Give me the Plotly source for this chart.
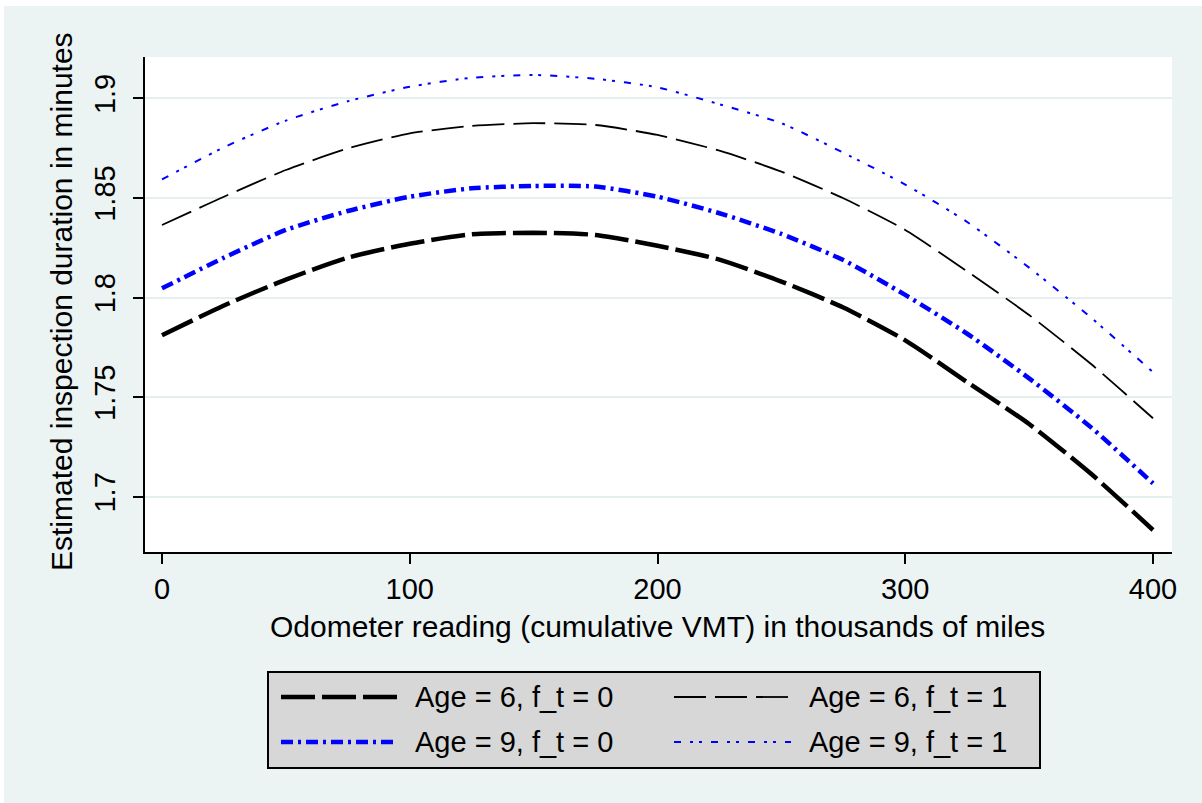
import plotly.graph_objects as go

# Odometer reading (thousands of miles)
odometer = [0, 25, 50, 75, 100, 125, 150, 175, 200, 225, 250, 275, 300, 325, 350, 375, 400]

# Estimated inspection duration (minutes)
age6_ft0 = [1.781, 1.796, 1.809, 1.820, 1.827, 1.8317, 1.8325, 1.8314, 1.826, 1.819, 1.808,
            1.795, 1.7785, 1.7575, 1.7365, 1.7115, 1.6833]
age6_ft1 = [1.8364, 1.8506, 1.864, 1.8748, 1.8824, 1.8861, 1.8875, 1.8866, 1.8816, 1.8737,
            1.8632, 1.8498, 1.8339, 1.8131, 1.7912, 1.7666, 1.7394]
age9_ft0 = [1.8046, 1.82, 1.8339, 1.8434, 1.8506, 1.8548, 1.856, 1.8557, 1.8506, 1.8423,
            1.8319, 1.8188, 1.8013, 1.7818, 1.7594, 1.7348, 1.7067]
age9_ft1 = [1.8593, 1.8754, 1.8888, 1.8985, 1.9058, 1.9103, 1.9117, 1.9098, 1.9055, 1.897,
            1.8875, 1.8727, 1.8567, 1.8379, 1.815, 1.7899, 1.7625]

labels = ["Age = 6, f_t = 0", "Age = 6, f_t = 1", "Age = 9, f_t = 0", "Age = 9, f_t = 1"]

x_ticks = [0, 100, 200, 300, 400]
y_ticks = [1.7, 1.75, 1.8, 1.85, 1.9]
y_tick_text = ["1.7", "1.75", "1.8", "1.85", "1.9"]

x_title = "Odometer reading (cumulative VMT) in thousands of miles"
y_title = "Estimated inspection duration in minutes"

series = [age6_ft0, age6_ft1, age9_ft0, age9_ft1]
styles = [
    dict(color="#000000", width=4.5, dash="34px,7px"),
    dict(color="#000000", width=1.8, dash="32px,9px"),
    dict(color="#0000ff", width=4.5, dash="12px,5px,3px,5px"),
    dict(color="#0000ff", width=2.0, dash="7px,9px,3px,6px,3px,9px"),
]

W, H = 1202, 803
PL, PR, PT, PB = 145, 1172, 57, 552  # plot area in pixels
FONT = "Liberation Sans, Arial, sans-serif"
BG = "#ebf3f3"


def px_x(p):
    return (p - PL) / (PR - PL)


def px_y(p):
    return (PB - p) / (PB - PT)


fig = go.Figure()
for vals, name, st in zip(series, labels, styles):
    fig.add_trace(go.Scatter(
        x=odometer, y=vals, name=name, mode="lines",
        line=dict(color=st["color"], width=st["width"], dash=st["dash"], shape="spline", smoothing=0.6),
        showlegend=False,
    ))

shapes = []
annotations = []

# white strips at the top and left edge of the page
shapes.append(dict(type="rect", xref="paper", yref="paper", x0=px_x(0), x1=px_x(W), y0=px_y(6), y1=px_y(-2),
                   fillcolor="white", line=dict(width=0), layer="above"))
shapes.append(dict(type="rect", xref="paper", yref="paper", x0=px_x(-2), x1=px_x(4), y0=px_y(H + 2), y1=px_y(0),
                   fillcolor="white", line=dict(width=0), layer="above"))

# legend box
shapes.append(dict(type="rect", xref="paper", yref="paper",
                   x0=px_x(268), x1=px_x(1040), y0=px_y(768), y1=px_y(672),
                   fillcolor="#d7d7d7", line=dict(color="#000000", width=2), layer="above"))
legend_pos = [(281, 398, 413, 697), (674, 791, 807, 697), (281, 398, 413, 742), (674, 791, 807, 742)]
for (lx0, lx1, tx, ly), name, st in zip(legend_pos, labels, styles):
    shapes.append(dict(type="line", xref="paper", yref="paper",
                       x0=px_x(lx0), x1=px_x(lx1), y0=px_y(ly), y1=px_y(ly),
                       line=dict(color=st["color"], width=st["width"], dash=st["dash"]), layer="above"))
    annotations.append(dict(text=name, xref="paper", yref="paper", x=px_x(tx), y=px_y(ly),
                            xanchor="left", yanchor="middle", showarrow=False,
                            font=dict(family=FONT, size=29, color="#000000")))

# axis titles
annotations.append(dict(text=x_title, xref="paper", yref="paper", x=px_x(657), y=px_y(626),
                        xanchor="center", yanchor="middle", showarrow=False,
                        font=dict(family=FONT, size=30, color="#000000")))
annotations.append(dict(text=y_title, xref="paper", yref="paper", x=px_x(61), y=px_y(302),
                        xanchor="center", yanchor="middle", showarrow=False, textangle=-90,
                        font=dict(family=FONT, size=30, color="#000000")))

fig.update_layout(
    width=W, height=H,
    margin=dict(l=PL, r=W - PR, t=PT, b=H - PB, autoexpand=False),
    paper_bgcolor=BG, plot_bgcolor="#ffffff",
    font=dict(family=FONT, size=29, color="#000000"),
    shapes=shapes, annotations=annotations,
    showlegend=False,
)
fig.update_xaxes(
    range=[-6.86, 407.67], tickvals=x_ticks, ticks="outside", ticklen=10, tickwidth=2,
    tickcolor="#000000", showline=True, linecolor="#000000", linewidth=2,
    showgrid=False, zeroline=False, tickfont=dict(size=29),
)
fig.update_yaxes(
    range=[1.67224, 1.92073], tickvals=y_ticks, ticktext=y_tick_text, tickangle=-90,
    ticks="outside", ticklen=10, tickwidth=2, tickcolor="#000000", ticklabelstandoff=6,
    showline=True, linecolor="#000000", linewidth=2,
    showgrid=True, gridcolor="#e6eff0", gridwidth=2, zeroline=False, tickfont=dict(size=29),
)

fig.write_html("out.html")
